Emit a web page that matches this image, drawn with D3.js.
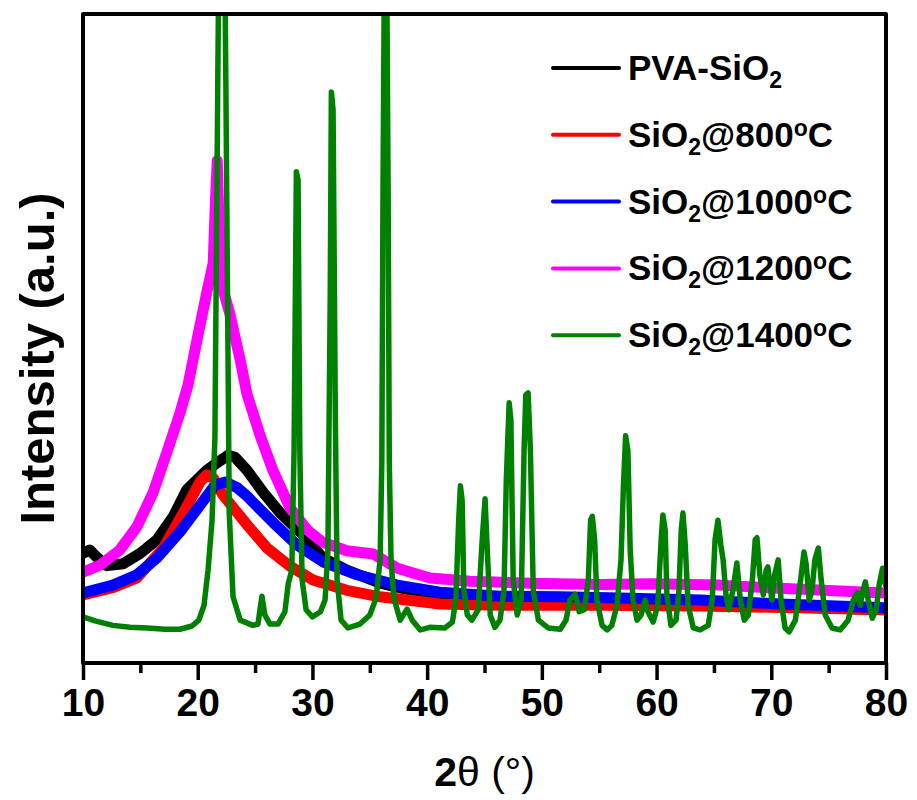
<!DOCTYPE html>
<html>
<head>
<meta charset="utf-8">
<script src="https://d3js.org/d3.v7.min.js"></script>
<style>
  html, body { margin: 0; padding: 0; background: #fff; }
  svg text { font-family: "Liberation Sans", Arial, sans-serif; font-weight: bold; fill: #000; }
</style>
</head>
<body>
<div id="chart"></div>
<script>
// ---- Data (2θ in degrees, intensity in arbitrary units) ----
const xTicks = [10, 20, 30, 40, 50, 60, 70, 80];
const seriesNames = ["PVA-SiO2", "SiO2@800", "SiO2@1000", "SiO2@1200", "SiO2@1400"];
const seriesColors = ["#000000", "#ff0000", "#0000ff", "#ff00ff", "#008000"];

const pvaX = [10, 10.6, 11.2, 12.1, 13.5, 15.0, 16.45, 17.85, 19.05, 20.8, 21.8, 22.65, 23.25, 24.3, 25.7, 27.2, 29.2, 30.9, 33.0, 35.9, 40.3, 46.4, 55.1, 63.8, 72.5, 80];
const pvaY = [169, 174, 163, 150, 153, 169, 190, 225, 267, 297, 310, 320, 317, 297, 263, 231, 197, 162, 143, 123, 105, 97, 92, 89, 86, 82];

const s800X = [10, 12.6, 14.7, 17.0, 18.9, 20.2, 20.8, 21.35, 22.2, 23.25, 24.3, 26.05, 28.05, 30.05, 33.0, 35.9, 41.1, 46.35, 55.1, 63.8, 72.5, 80];
const s800Y = [105, 116, 131, 177, 236, 279, 290, 285, 259, 236, 213, 177, 149, 128, 112, 102, 91, 89, 89, 88, 85, 82];

const s1000X = [10, 12.6, 14.7, 16.45, 18.45, 20.2, 21.5, 22.4, 23.45, 24.3, 26.55, 28.65, 30.9, 33.9, 37.4, 41.1, 46.35, 51.6, 56.8, 63.8, 70.75, 80];
const s1000Y = [108, 120, 136, 162, 202, 243, 274, 279, 270, 257, 217, 182, 156, 136, 120, 109, 103, 102, 100, 97, 91, 85];

const s1200X = [10, 11.5, 13.2, 14.7, 16.1, 17.3, 18.45, 19.15, 19.95, 20.8, 21.35, 21.55, 21.7, 21.85, 22.1, 22.8, 23.7, 24.3, 25.45, 26.55, 28.05, 29.55, 30.9, 33.0, 35.3, 37.4, 40.25, 43.75, 49.0, 55.1, 59.45, 65.5, 70.75, 76.0, 80];
const s1200Y = [140, 151, 174, 210, 262, 324, 385, 428, 499, 572, 616, 713, 774, 683, 582, 538, 467, 414, 350, 297, 239, 205, 186, 173, 168, 146, 131, 126, 123, 121, 122, 120, 115, 111, 108];

const s1400X = [10, 11.05, 12.6, 14.1, 15.6, 17.15, 18.45, 19.5, 20.1, 20.55, 20.9, 21.25, 21.5, 21.75, 22.1, 22.45, 22.75, 23.08, 23.7, 24.8,
  25.25, 25.6, 25.85, 26.3, 27.0, 27.6, 27.9, 28.2, 28.4, 28.6, 28.75, 28.9, 29.1, 29.45, 30.0, 30.7, 31.1, 31.35, 31.55, 31.65, 31.8, 32.0, 32.15, 32.5, 33.1, 34.15, 35.0, 35.55, 35.9, 36.05, 36.15, 36.3, 36.45, 36.6, 36.7, 36.85, 37.1, 37.65, 38.25, 38.7, 39.4,
  40.25, 41.55, 42.2, 42.5, 42.75, 42.9, 43.05, 43.2, 43.5, 43.9, 44.45, 44.8, 45.05, 45.2, 45.5, 45.9, 46.35, 46.7, 46.9, 47.15, 47.3, 47.5, 47.85, 48.2, 48.45, 48.6, 48.8, 49.0, 49.25, 49.7,
  50.55, 51.6, 52.1, 52.45, 52.9, 53.25, 53.7, 54.05, 54.25, 54.4, 54.6, 54.8, 55.25, 55.7, 56.1, 56.55, 56.9, 57.1, 57.3, 57.5, 57.7, 57.95, 58.3, 58.65, 59.0, 59.25, 59.7,
  60.1, 60.4, 60.55, 60.75, 60.9, 61.25, 61.7, 61.95, 62.15, 62.3, 62.5, 62.75, 63.2, 63.8, 64.5, 64.85, 65.1, 65.35, 65.6, 65.8, 66.05, 66.3, 66.65, 67.0, 67.3, 67.65, 68.0, 68.35, 68.6, 68.75, 69.0, 69.3, 69.55, 69.7,
  70.05, 70.3, 70.6, 70.85, 71.2, 71.55, 72.1, 72.5, 72.85, 73.05, 73.3, 73.55, 73.8, 74.1, 74.35, 74.7, 75.3, 76.0, 76.7, 77.15, 77.5, 77.75, 78.0, 78.2, 78.45, 78.8, 79.15, 79.4, 79.7, 79.95];
const s1400Y = [71, 65, 58, 55, 54, 52, 52, 57, 66, 89, 143, 220, 348, 900, 1600, 900, 230, 102, 66, 58,
  60, 103, 74, 60, 60, 79, 123, 143, 328, 757, 744, 328, 128, 82, 71, 79, 97, 174, 560, 880, 852, 374, 128, 66, 54, 60, 74, 100, 159, 310, 720, 1150, 1150, 720, 310, 159, 100, 66, 83, 66, 51,
  55, 54, 63, 97, 220, 273, 251, 112, 74, 66, 82, 190, 253, 190, 74, 55, 66, 112, 282, 401, 374, 128, 74, 97, 328, 413, 416, 328, 112, 66,
  54, 52, 66, 97, 106, 79, 82, 128, 220, 226, 190, 97, 58, 51, 58, 89, 159, 267, 350, 328, 174, 97, 66, 74, 97, 79, 63,
  89, 190, 228, 205, 105, 58, 66, 112, 205, 231, 182, 89, 54, 51, 58, 97, 190, 220, 182, 159, 105, 82, 112, 154, 97, 66, 74, 128, 190, 193, 136, 105, 143, 148,
  97, 136, 159, 97, 54, 48, 66, 120, 171, 151, 97, 112, 159, 177, 128, 74, 54, 51, 66, 97, 108, 89, 112, 125, 97, 69, 82, 120, 146, 120];

const seriesX = [pvaX, s800X, s1000X, s1200X, s1400X];
const seriesY = [pvaY, s800Y, s1000Y, s1200Y, s1400Y];

// ---- Layout ----
const W = 917, H = 800;
const pLeft = 83, pRight = 886, pTop = 14, pBottom = 663;

const svg = d3.select("#chart").append("svg").attr("width", W).attr("height", H);

const x = d3.scaleLinear().domain([10, 80]).range([pLeft, pRight]);
const y = d3.scaleLinear().domain([0, 1000]).range([pBottom, pTop]);

svg.append("defs").append("clipPath").attr("id", "plotclip")
  .append("rect").attr("x", pLeft).attr("y", pTop).attr("width", pRight - pLeft).attr("height", pBottom - pTop);

const line = d3.line().x(d => x(d[0])).y(d => y(d[1])).curve(d3.curveLinear);

const plot = svg.append("g").attr("clip-path", "url(#plotclip)");
seriesX.forEach((xs, i) => {
  const pts = xs.map((v, j) => [v, seriesY[i][j]]);
  plot.append("path").datum(pts)
    .attr("d", line)
    .attr("fill", "none")
    .attr("stroke", seriesColors[i])
    .attr("stroke-width", i === 4 ? 5.5 : 11)
    .attr("stroke-linejoin", "round")
    .attr("stroke-linecap", "round");
});

// ---- Frame ----
svg.append("rect").attr("x", pLeft).attr("y", pTop).attr("width", pRight - pLeft).attr("height", pBottom - pTop)
  .attr("fill", "none").attr("stroke", "#000").attr("stroke-width", 4).attr("stroke-linejoin", "round");

// ---- X axis ----
const xAxis = d3.axisBottom(x).tickValues(xTicks).tickSize(17).tickPadding(8).tickFormat(d3.format("d"));
const gx = svg.append("g").attr("transform", `translate(0,${pBottom})`).call(xAxis);
gx.select(".domain").remove();
gx.selectAll(".tick line").attr("stroke", "#000").attr("stroke-width", 3.5);
gx.selectAll(".tick text").style("font-size", "39px").style("font-family", "'Liberation Sans', Arial, sans-serif").style("font-weight", "bold").attr("fill", "#000");

const minorTicks = d3.range(15, 80, 10);
const gmin = svg.append("g").attr("transform", `translate(0,${pBottom})`)
  .call(d3.axisBottom(x).tickValues(minorTicks).tickSize(10).tickFormat(""));
gmin.select(".domain").remove();
gmin.selectAll(".tick line").attr("stroke", "#000").attr("stroke-width", 3.5);

// ---- Axis titles ----
const xt = svg.append("text").attr("x", (pLeft + pRight) / 2).attr("y", 786).attr("text-anchor", "middle").style("font-size", "41px");
xt.append("tspan").text("2");
xt.append("tspan").style("font-weight", "normal").text("θ (°)");

svg.append("text")
  .attr("transform", `translate(54,${(pTop + pBottom) / 2 + 20}) rotate(-90)`)
  .attr("text-anchor", "middle")
  .style("font-size", "49px")
  .text("Intensity (a.u.)");

// ---- Legend ----
const legY0 = 68, legDy = 66.8;
seriesNames.forEach((name, i) => {
  const yy = legY0 + i * legDy;
  svg.append("line").attr("x1", 553).attr("x2", 619).attr("y1", yy).attr("y2", yy)
    .attr("stroke", seriesColors[i]).attr("stroke-width", 4).attr("stroke-linecap", "round");
  const t = svg.append("text").attr("x", 628).attr("y", yy + 12).style("font-size", "35px");
  if (i === 0) {
    t.append("tspan").text("PVA-SiO");
    t.append("tspan").attr("dy", 8).style("font-size", "23px").text("2");
  } else {
    t.append("tspan").text("SiO");
    t.append("tspan").attr("dy", 8).style("font-size", "23px").text("2");
    t.append("tspan").attr("dy", -8).text("@" + name.split("@")[1]);
    t.append("tspan").attr("dy", -11).style("font-size", "23px").text("o");
    t.append("tspan").attr("dy", 11).text("C");
  }
});
</script>
</body>
</html>
